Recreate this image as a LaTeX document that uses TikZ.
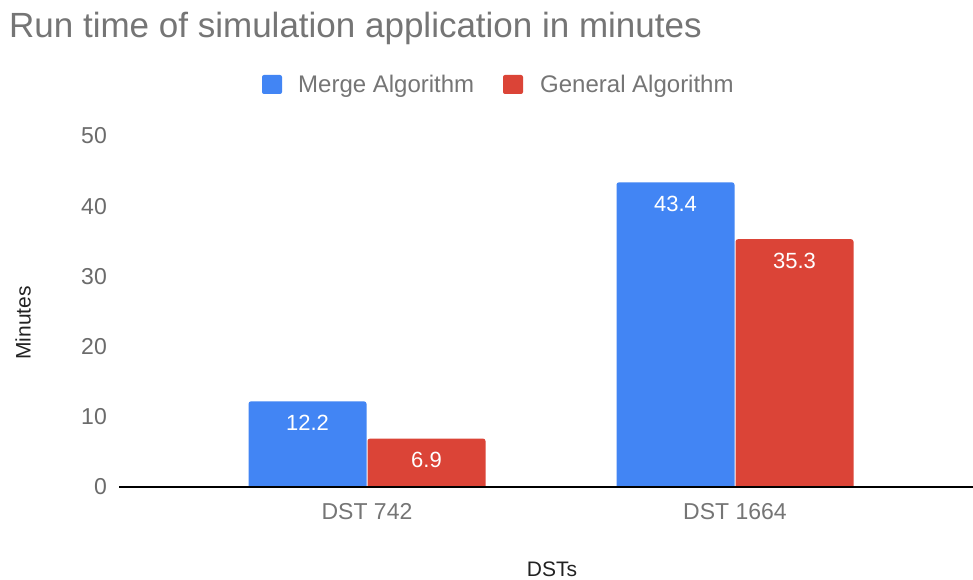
\documentclass[tikz,border=0pt]{standalone}
\usepackage{fontspec}
\setmainfont{Liberation Sans}
\definecolor{mergeblue}{HTML}{4285F4}
\definecolor{generalred}{HTML}{DB4437}
\definecolor{labelgray}{HTML}{757575}
\definecolor{tickgray}{HTML}{6B6B6B}
\definecolor{axistitle}{HTML}{222222}
\definecolor{baseline}{HTML}{6A6A6A}
\newcommand{\fsz}[1]{\fontsize{#1}{#1}\selectfont}
\tikzset{
  ticklabel/.style={anchor=east, inner sep=0pt, text=tickgray, font=\fsz{23}},
  catlabel/.style={inner sep=0pt, text=labelgray, font=\fsz{23}},
  vallabel/.style={inner sep=0pt, text=white, font=\fsz{22}},
  legtext/.style={anchor=base west, inner sep=0pt, text=labelgray, font=\fsz{24}},
  legkey/.style={rounded corners=2pt},
  axtitle/.style={inner sep=0pt, text=axistitle, font=\fsz{21}},
}
% bar with rounded top corners: #1 colour, #2 left x, #3 right x, #4 value
\newcommand{\chartbar}[4]{%
  \fill[#1] (#2,93) [rounded corners=2.5pt] -- (#2,{93+7.02*#4}) -- (#3,{93+7.02*#4}) [sharp corners] -- (#3,93) -- cycle;}
\begin{document}
\begin{tikzpicture}[x=1pt,y=1pt]
\useasboundingbox (0,0) rectangle (973,580);
\fill[white] (0,0) rectangle (973,580);

% title
\node[anchor=base west, inner sep=0pt, text=labelgray, font=\fsz{35}] (title) at (9,542)
  {Run time of simulation application in minutes};

% legend
\fill[mergeblue, legkey] (262,486) rectangle (282,505);
\node[legtext] (legmerge) at (298,487) {Merge Algorithm};
\fill[generalred, legkey] (503,486) rectangle (523,505);
\node[legtext] (leggeneral) at (540,487) {General Algorithm};

% y tick labels
\foreach \v in {0,10,20,30,40,50}
  \node[ticklabel] (tick\v) at (107,{93+7.02*\v}) {\v};

% bars
\chartbar{mergeblue}{248.5}{366.5}{12.2}
\chartbar{generalred}{367.5}{485.5}{6.9}
\chartbar{mergeblue}{616.5}{734.5}{43.4}
\chartbar{generalred}{735.5}{853.5}{35.3}

% value labels
\node[vallabel] (v742m) at (307.5,{93+7.02*12.2-21.5}) {12.2};
\node[vallabel] (v742g) at (426.5,{93+7.02*6.9-21.5}) {6.9};
\node[vallabel] (v1664m) at (675.5,{93+7.02*43.4-21.5}) {43.4};
\node[vallabel] (v1664g) at (794.5,{93+7.02*35.3-21.5}) {35.3};

% baseline
\draw[baseline, line width=1.5pt] (119,93) -- (973,93);

% category labels
\node[catlabel] (cat742) at (367,68) {DST 742};
\node[catlabel] (cat1664) at (735,68) {DST 1664};

% axis titles
\node[axtitle, rotate=90] (ytitle) at (23,257) {Minutes};
\node[axtitle, anchor=base] (xtitle) at (552,3.5) {DSTs};
\end{tikzpicture}
\end{document}
